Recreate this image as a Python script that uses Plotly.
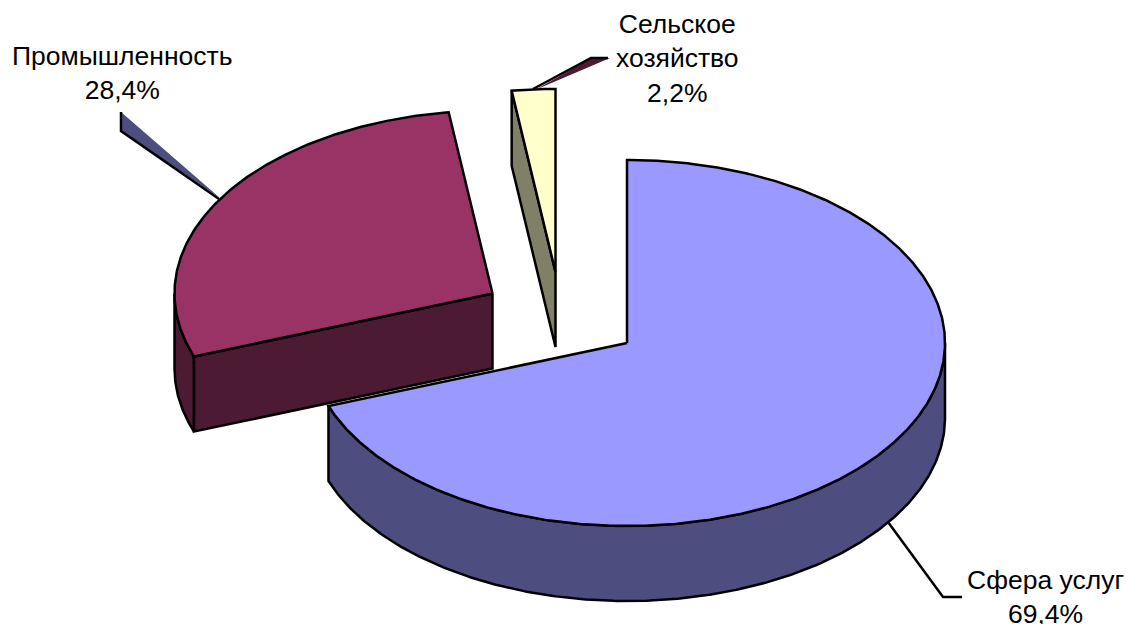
import numpy as np
import plotly.graph_objects as go

categories = ["Сфера услуг", "Промышленность", "Сельское<br>хозяйство"]
shares = [69.4, 28.4, 2.2]
share_labels = ["69,4%", "28,4%", "2,2%"]

W, H = 1126, 624
RX, RY, DEPTH = 318, 183, 75
centers = [(627, 343), (492.5, 293.5), (555.5, 272)]
top_colors = ["#9999FF", "#993366", "#FFFFCC"]
side_colors = ["#4D4D80", "#4D1A33", "#808066"]
label_pos = [(1045, 597), (122, 73), (677, 58)]
LW = 2.5


def pt(c, deg, dz=0):
    t = np.radians(np.asarray(deg, dtype=float))
    return c[0] + RX * np.sin(t), c[1] - RY * np.cos(t) + dz


def arc(c, a, b, dz=0):
    n = max(2, int(abs(b - a) * 2) + 2)
    return pt(c, np.linspace(a, b, n), dz)


def poly(fig, xs, ys, fill, line=True):
    fig.add_trace(go.Scatter(
        x=list(xs), y=list(ys), mode="lines", fill="toself", fillcolor=fill,
        line=dict(color="#000000" if line else "rgba(0,0,0,0)", width=LW),
        hoverinfo="skip", showlegend=False))


def stroke(fig, xs, ys):
    fig.add_trace(go.Scatter(x=list(xs), y=list(ys), mode="lines",
                             line=dict(color="#000000", width=LW),
                             hoverinfo="skip", showlegend=False))


total = sum(shares)
edges = np.concatenate([[0], np.cumsum(shares)]) / total * 360

fig = go.Figure()

# Slices, drawn back to front in the order of the reference
for i in range(3):
    c, a, b = centers[i], edges[i], edges[i + 1]
    # outer rim: the part of the arc facing the viewer (90..270 deg)
    lo, hi = max(a, 90), min(b, 270)
    if hi > lo:
        x1, y1 = arc(c, lo, hi)
        x2, y2 = arc(c, hi, lo, DEPTH)
        poly(fig, np.r_[x1, x2, x1[0]], np.r_[y1, y2, y1[0]], side_colors[i])
    # visible cut face of the exploded slices
    if i > 0:
        ex, ey = pt(c, a)
        poly(fig, [c[0], ex, ex, c[0], c[0]],
             [c[1], ey, ey + DEPTH, c[1] + DEPTH, c[1]], side_colors[i])
    x, y = arc(c, a, b)
    poly(fig, np.r_[c[0], x, c[0]], np.r_[c[1], y, c[1]], top_colors[i])

# Leader lines
poly(fig, [121, 121, 220, 121], [112, 131, 198, 112], side_colors[0], line=False)
stroke(fig, [121, 121, 219], [112, 131, 199])
poly(fig, [592, 610, 535, 592], [58, 58, 90, 58], side_colors[1], line=False)
stroke(fig, [533, 591, 608], [89, 58, 58])
stroke(fig, [888, 943, 962], [522, 597, 597])

for i, (lx, ly) in enumerate(label_pos):
    fig.add_annotation(x=lx, y=ly, text=f"{categories[i]}<br>{share_labels[i]}",
                       showarrow=False, xanchor="center", yanchor="middle",
                       font=dict(family="Liberation Sans", size=26.5, color="#000000"))

fig.update_xaxes(range=[0, W], visible=False, fixedrange=True)
fig.update_yaxes(range=[H, 0], visible=False, fixedrange=True)
fig.update_layout(width=W, height=H, margin=dict(l=0, r=0, t=0, b=0),
                  plot_bgcolor="#FFFFFF", paper_bgcolor="#FFFFFF", showlegend=False)
fig.write_html("out.html", config={"displayModeBar": False},
               post_script="document.body.style.margin='0';document.documentElement.style.overflow='hidden';")
